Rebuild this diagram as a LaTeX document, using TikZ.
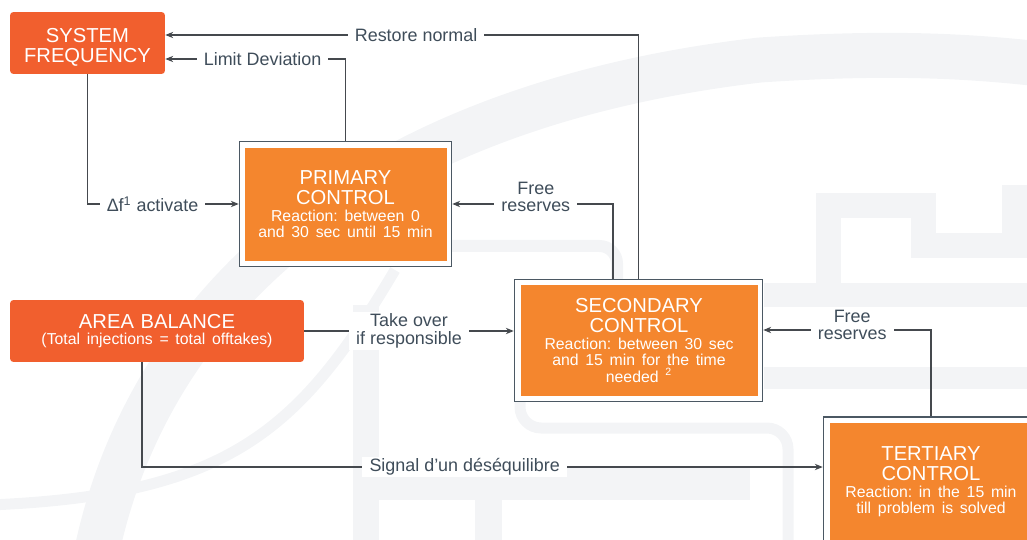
\documentclass[tikz,border=0pt]{standalone}
\usepackage{fontspec}
\setmainfont{Liberation Sans}
\usetikzlibrary{arrows.meta}

\definecolor{sysred}{HTML}{F15F2E}
\definecolor{ctrlorange}{HTML}{F4862E}
\definecolor{framegray}{HTML}{4B5863}
\definecolor{linegray}{HTML}{45494E}
\definecolor{lbltext}{HTML}{3F4D5A}
\definecolor{wmgray}{HTML}{F3F4F6}

\newcommand{\titletxt}{\fontsize{11.5}{11.3}\selectfont\frenchspacing}
\newcommand{\subtxt}{\fontsize{9}{9.5}\selectfont\frenchspacing}

\begin{document}
\begin{tikzpicture}[
  x=0.02cm, y=-0.02cm,
  sysbox/.style={rectangle, rounded corners=2pt, fill=sysred,
                 text=white, font=\titletxt, align=center, inner sep=2pt},
  ctrlbox/.style={rectangle, fill=ctrlorange, text=white,
                  font=\titletxt, align=center, inner sep=2pt},
  ctrlframe/.style={rectangle, draw=framegray, line width=0.9pt, fill=white},
  lbl/.style={fill=white, text=lbltext, font=\fontsize{10.2}{10}\selectfont,
              align=center, inner xsep=4pt, inner ysep=1pt},
  arr/.style={-{Stealth[length=4.5pt,width=3.6pt]}, draw=linegray, line width=0.6pt},
  wm/.style={draw=wmgray, line width=0.9cm}
]
\useasboundingbox (0,0) rectangle (1027,540);
\clip (0,0) rectangle (1027,540);

% faint watermark
\draw[wm] (95,560) .. controls (140,330) and (330,110) .. (760,60)
          .. controls (880,52) and (960,55) .. (1040,64);
\draw[wm, line width=0.22cm] (395,270) .. controls (300,430) and (230,495) .. (-10,505);
\draw[wm, line width=0.5cm] (828.5,290) -- (828.5,205.5) -- (923.5,205.5)
      -- (923.5,245.5) -- (1040,245.5);
\draw[wm, line width=0.5cm] (1014.5,185) -- (1014.5,233);
\draw[wm, line width=0.48cm] (764,295) -- (1040,295);
\draw[wm, line width=0.46cm] (764,378) -- (1040,378);
\draw[wm, line width=0.24cm, rounded corners=10pt] (452,246) -- (617,246) -- (617,290);
\draw[wm, line width=0.22cm, rounded corners=12pt] (520,395) -- (520,428) -- (788,428) -- (788,560);
\draw[wm, line width=0.52cm] (366,305) -- (366,560);
\draw[wm, line width=0.66cm] (366,483.5) -- (750,483.5);
\draw[wm, line width=0.54cm] (488.5,483) -- (488.5,560);

% frames
\node[ctrlframe, minimum width=4.24cm, minimum height=2.5cm]  (primf) at (345.5,204) {};
\node[ctrlframe, minimum width=4.96cm, minimum height=2.44cm] (secf)  at (638.5,340.5) {};
\node[ctrlframe, minimum width=4.3cm,  minimum height=2.62cm] (tertf) at (931,482.5) {};

% boxes
\node[sysbox, minimum width=3.1cm, minimum height=1.24cm] (sf) at (87.5,43)
  {\rule{0pt}{13pt}SYSTEM\\FREQUENCY};
\node[sysbox, minimum width=5.88cm, minimum height=1.24cm, text width=5.7cm] (area) at (157,331)
  {AREA BALANCE\par{\subtxt (Total injections = total offtakes)\par}};
\node[ctrlbox, minimum width=4.02cm, minimum height=2.26cm, text width=3.9cm] (prim) at (345.5,204.5)
  {PRIMARY\\CONTROL\par{\subtxt Reaction: between 0\\and 30 sec until 15 min\par}};
\node[ctrlbox, minimum width=4.72cm, minimum height=2.22cm, text width=4.6cm] (sec) at (639,340.5)
  {SECONDARY\\CONTROL\par{\subtxt Reaction: between 30 sec\\and 15 min for the time\\needed \textsuperscript{2}\par}};
\node[ctrlbox, minimum width=4.04cm, minimum height=2.36cm, text width=3.9cm] (tert) at (931,482)
  {TERTIARY\\CONTROL\par{\subtxt Reaction: in the 15 min\\till problem is solved\par}};

% connectors
\draw[arr] (secf.north) |- node[lbl, pos=0.735] {Restore normal} ([yshift=0.16cm]sf.east);
\draw[arr] (primf.north) |- node[lbl, pos=0.73] {Limit Deviation} ([yshift=-0.32cm]sf.east);
\draw[arr] (sf.south) |- node[lbl, pos=0.715] {Δf\textsuperscript{1} activate} (primf.west);
\draw[arr] ([xshift=-0.51cm]secf.north) |- node[lbl, pos=0.74, yshift=4pt] {Free\\reserves} (primf.east);
\draw[arr] (area.east) -- node[lbl] {Take over\\if responsible} (area.east -| secf.west);
\draw[arr] (tertf.north) |- node[lbl, pos=0.735, yshift=3pt] {Free\\reserves} ([yshift=0.21cm]secf.east);
\draw[arr] ([xshift=-0.3cm]area.south) |- node[lbl, pos=0.737] {Signal d’un déséquilibre} ([yshift=0.31cm]tertf.west);
\end{tikzpicture}
\end{document}
